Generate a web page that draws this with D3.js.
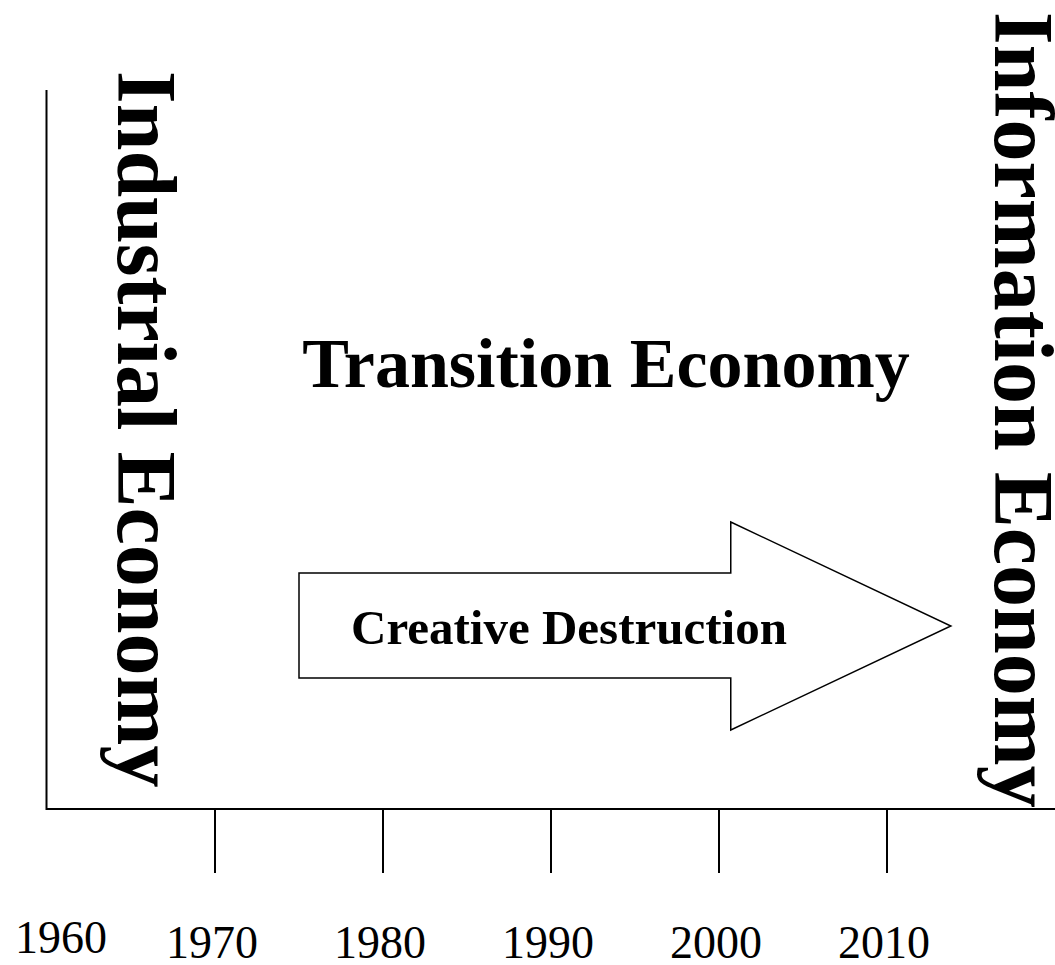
<!DOCTYPE html>
<html>
<head>
<meta charset="utf-8">
<script src="https://cdn.jsdelivr.net/npm/d3@7"></script>
<style>
  body { margin: 0; background: #fff; }
  text { font-family: "Liberation Serif", "Times New Roman", serif; fill: #000; }
  .bold { font-weight: bold; }
</style>
</head>
<body>
<svg id="chart"></svg>
<script>
// Decade labels along the time axis
const years = [1960, 1970, 1980, 1990, 2000, 2010];
const tickYears = [1970, 1980, 1990, 2000, 2010];

// Era labels
const leftEra = "Industrial Economy";
const rightEra = "Information Economy";
const middleEra = "Transition Economy";
const arrowLabel = "Creative Destruction";

// Arrow span in years: start, shoulder, tip
const arrowYears = [1975, 2000.7, 2013.8];

const width = 1055;
const height = 965;

const svg = d3.select("#chart")
    .attr("width", width)
    .attr("height", height);

const x = d3.scaleLinear().domain([1960, 2010]).range([47, 887]);
// vertical scale 0..100 for the plotting area
const y = d3.scaleLinear().domain([0, 100]).range([809, 90]);

// Axes lines
svg.append("line")
    .attr("x1", 46.5).attr("x2", 46.5)
    .attr("y1", y(100)).attr("y2", y(0) + 1)
    .attr("stroke", "#000").attr("stroke-width", 2);

svg.append("line")
    .attr("x1", 46).attr("x2", width)
    .attr("y1", y(0)).attr("y2", y(0))
    .attr("stroke", "#000").attr("stroke-width", 2);

// Ticks
svg.selectAll(".tick")
    .data(tickYears)
    .enter()
    .append("line")
    .attr("class", "tick")
    .attr("x1", d => x(d)).attr("x2", d => x(d))
    .attr("y1", y(0)).attr("y2", y(0) + 64)
    .attr("stroke", "#000").attr("stroke-width", 2);

// Year labels
svg.selectAll(".year")
    .data(years)
    .enter()
    .append("text")
    .attr("class", "year")
    .attr("x", d => d === 1960 ? x(d) + 14 : x(d) - 3)
    .attr("y", d => d === 1960 ? 953 : 958)
    .attr("text-anchor", "middle")
    .style("font-size", "46px")
    .text(d => d);

// Vertical era labels
svg.append("text")
    .attr("class", "bold")
    .attr("transform", "translate(118,71) rotate(90)")
    .style("font-size", "84px")
    .text(leftEra);

svg.append("text")
    .attr("class", "bold")
    .attr("transform", "translate(995,12) rotate(90)")
    .style("font-size", "84px")
    .text(rightEra);

// Middle label
svg.append("text")
    .attr("class", "bold")
    .attr("x", 606)
    .attr("y", 387)
    .attr("text-anchor", "middle")
    .style("font-size", "70px")
    .text(middleEra);

// Arrow
const bodyTop = 573, bodyBot = 678, headTop = 522, headBot = 730, mid = 626;
const [a0, a1, a2] = arrowYears.map(x);
const arrowPts = [
    [a0, bodyTop], [a1, bodyTop], [a1, headTop], [a2, mid],
    [a1, headBot], [a1, bodyBot], [a0, bodyBot]
];
svg.append("path")
    .attr("d", d3.line()(arrowPts) + "Z")
    .attr("fill", "#fff")
    .attr("stroke", "#000")
    .attr("stroke-width", 1.5);

svg.append("text")
    .attr("class", "bold")
    .attr("x", 351)
    .attr("y", 644)
    .style("font-size", "49px")
    .text(arrowLabel);
</script>
</body>
</html>
